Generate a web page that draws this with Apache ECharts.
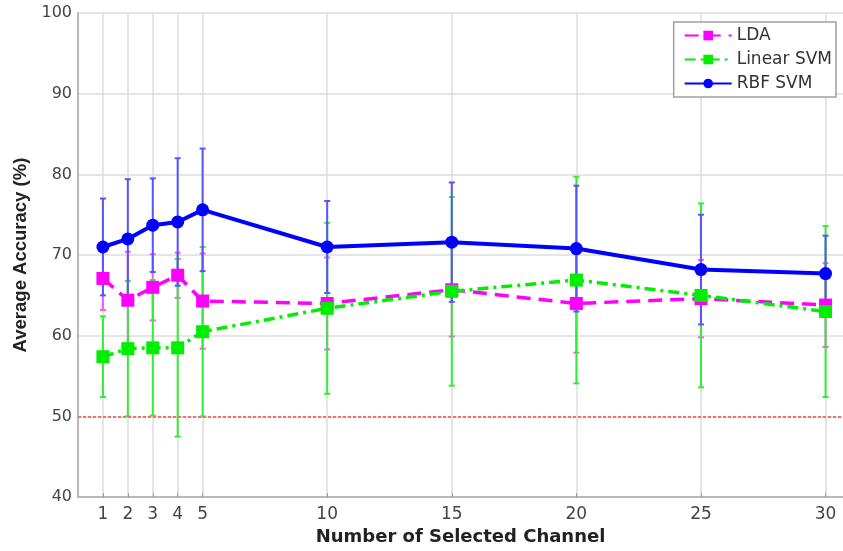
<!DOCTYPE html>
<html>
<head>
<meta charset="utf-8">
<style>
  html, body { margin: 0; padding: 0; background: #ffffff; }
  #chart { width: 843px; height: 551px; }
</style>
<script src="https://cdn.jsdelivr.net/npm/echarts@6/dist/echarts.min.js"></script>
</head>
<body>
<div id="chart"></div>
<script>
// Number of selected channels (x positions)
const channels = [1, 2, 3, 4, 5, 10, 15, 20, 25, 30];
const xTicks = [1, 2, 3, 4, 5, 10, 15, 20, 25, 30];
const yTicks = [40, 50, 60, 70, 80, 90, 100];

// Mean accuracy (%) and standard deviation per classifier
const ldaMean = [67.1, 64.4, 66.0, 67.5, 64.3, 64.0, 65.7, 64.0, 64.6, 63.8];
const ldaStd = [3.9, 6.0, 4.1, 2.8, 5.9, 5.7, 5.8, 6.1, 4.8, 5.2];
const linearMean = [57.4, 58.4, 58.5, 58.5, 60.5, 63.4, 65.5, 66.9, 65.0, 63.0];
const linearStd = [5.0, 8.4, 8.4, 11.0, 10.5, 10.6, 11.7, 12.8, 11.4, 10.6];
const rbfMean = [71.0, 72.0, 73.7, 74.1, 75.6, 71.0, 71.6, 70.8, 68.2, 67.7];
const rbfStd = [6.0, 7.4, 5.8, 7.9, 7.6, 5.7, 7.4, 7.8, 6.8, 4.7];

// Chance level
const chanceLevel = 50;

const WIDE = 'DejaVu Sans, Verdana, sans-serif';
const NARROW = 'Liberation Sans, Arial, sans-serif';

function pairs(xs, ys) {
  return xs.map((x, i) => [x, ys[i]]);
}
function bars(xs, mean, std) {
  return xs.map((x, i) => [x, mean[i] - std[i], mean[i] + std[i]]);
}

// Vertical error bar with small caps
function errorBarRenderer(color) {
  return function (params, api) {
    const x = api.value(0);
    const lo = api.coord([x, api.value(1)]);
    const hi = api.coord([x, api.value(2)]);
    const cap = 3;
    const style = { stroke: color, lineWidth: 2 };
    return {
      type: 'group',
      children: [
        { type: 'line', shape: { x1: lo[0], y1: lo[1], x2: hi[0], y2: hi[1] }, style },
        { type: 'line', shape: { x1: lo[0] - cap, y1: lo[1], x2: lo[0] + cap, y2: lo[1] }, style },
        { type: 'line', shape: { x1: hi[0] - cap, y1: hi[1], x2: hi[0] + cap, y2: hi[1] }, style }
      ]
    };
  };
}

const chart = echarts.init(document.getElementById('chart'));

chart.setOption({
  animation: false,
  backgroundColor: '#ffffff',
  grid: { left: 78, right: 0, top: 13, bottom: 52, containLabel: false },
  legend: {
    right: 7,
    top: 22,
    orient: 'vertical',
    backgroundColor: '#ffffff',
    borderColor: '#a0a0a0',
    borderWidth: 1.5,
    padding: [5, 4, 5, 10],
    itemGap: 7,
    itemWidth: 47,
    itemHeight: 12,
    textStyle: { fontFamily: WIDE, fontSize: 17, color: '#333' },
    data: ['LDA', 'Linear SVM', 'RBF SVM']
  },
  xAxis: {
    type: 'value',
    min: 0,
    max: 30.7,
    name: 'Number of Selected Channel',
    nameLocation: 'middle',
    nameGap: 30,
    nameTextStyle: { fontFamily: WIDE, fontSize: 18, fontWeight: 'bold', color: '#222' },
    axisLine: { show: true, lineStyle: { color: '#b8b8b8', width: 2 } },
    axisTick: { show: true, inside: true, length: 4, customValues: xTicks, lineStyle: { color: '#999' } },
    axisLabel: {
      customValues: xTicks,
      margin: 9,
      fontFamily: WIDE,
      fontSize: 17,
      color: '#444'
    },
    splitLine: { show: true, lineStyle: { color: '#dcdcdc', width: 1.5 } }
  },
  yAxis: {
    type: 'value',
    min: 40,
    max: 100,
    interval: 10,
    name: 'Average Accuracy (%)',
    nameLocation: 'middle',
    nameGap: 45,
    nameTextStyle: { fontFamily: NARROW, fontSize: 18.5, fontWeight: 'bold', color: '#222' },
    axisLine: { show: true, lineStyle: { color: '#b8b8b8', width: 2 } },
    axisTick: { show: false },
    axisLabel: {
      margin: 6,
      fontFamily: WIDE,
      fontSize: 16,
      color: '#444',
      formatter: v => (yTicks.indexOf(v) >= 0 ? String(v) : '')
    },
    splitLine: { show: true, lineStyle: { color: '#dcdcdc', width: 1.5 } }
  },
  series: [
    {
      type: 'custom',
      name: 'LDA-std',
      z: 1,
      renderItem: errorBarRenderer('#ff55ff'),
      encode: { x: 0, y: [1, 2] },
      data: bars(channels, ldaMean, ldaStd),
      silent: true
    },
    {
      type: 'custom',
      name: 'Linear-std',
      z: 1,
      renderItem: errorBarRenderer('#33ee33'),
      encode: { x: 0, y: [1, 2] },
      data: bars(channels, linearMean, linearStd),
      silent: true
    },
    {
      type: 'custom',
      name: 'RBF-std',
      z: 1,
      renderItem: errorBarRenderer('#5555ff'),
      encode: { x: 0, y: [1, 2] },
      data: bars(channels, rbfMean, rbfStd),
      silent: true
    },
    {
      type: 'line',
      name: 'LDA',
      z: 3,
      data: pairs(channels, ldaMean),
      symbol: 'rect',
      symbolSize: 13,
      color: '#ff00ff',
      itemStyle: { color: '#ff00ff' },
      lineStyle: { color: '#ff00ff', width: 3.5, type: [14, 8] },
      markLine: {
        silent: true,
        symbol: 'none',
        label: { show: false },
        lineStyle: { color: '#f07070', width: 2, type: [3, 2] },
        data: [{ yAxis: chanceLevel }]
      }
    },
    {
      type: 'line',
      name: 'Linear SVM',
      z: 4,
      data: pairs(channels, linearMean),
      symbol: 'rect',
      symbolSize: 13,
      color: '#00ee00',
      itemStyle: { color: '#00ee00' },
      lineStyle: { color: '#00ee00', width: 3.5, type: [11, 5, 3, 5] }
    },
    {
      type: 'line',
      name: 'RBF SVM',
      z: 5,
      data: pairs(channels, rbfMean),
      symbol: 'circle',
      symbolSize: 13,
      color: '#0000ff',
      itemStyle: { color: '#0000ff' },
      lineStyle: { color: '#0000ff', width: 4 }
    }
  ]
});
</script>
</body>
</html>
